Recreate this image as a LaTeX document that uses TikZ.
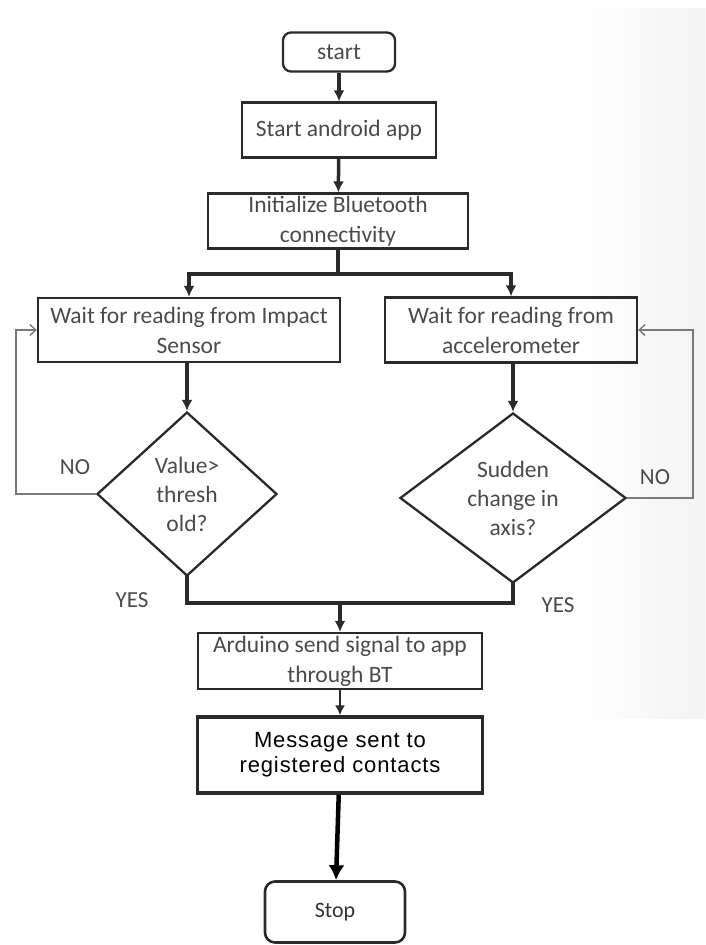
\documentclass[tikz,border=0pt]{standalone}
\usepackage{fontspec}
\setmainfont{Carlito}
\newfontfamily\arialfont[LetterSpace=4]{Liberation Sans}
\usetikzlibrary{shapes.geometric,arrows.meta,positioning}

\definecolor{boxline}{HTML}{2A2A2A}
\definecolor{txtgray}{HTML}{4A4A4A}
\definecolor{loopgray}{HTML}{7A7A7A}

\tikzset{
  procbox/.style={draw=boxline, line width=2.3pt, rectangle, align=center,
    text=txtgray, font=\fontsize{23.5}{30}\selectfont, inner sep=1pt},
  termbox/.style={procbox, rounded corners=8pt},
  decision/.style={draw=boxline, line width=2.3pt, diamond, align=center,
    text=txtgray, font=\fontsize{23.5}{29}\selectfont, inner sep=0pt},
  flow/.style={line width=3.5pt, draw=boxline, -{Latex[length=11pt,width=11pt]}},
  flowline/.style={line width=3.5pt, draw=boxline},
  loopback/.style={line width=1.4pt, draw=loopgray, -{Straight Barb[length=6pt,width=11pt]}},
  lbl/.style={text=txtgray, font=\fontsize{23}{26}\selectfont}
}

\begin{document}
\begin{tikzpicture}[x=1pt, y=-1pt]
  \useasboundingbox (0,0) rectangle (705,945);
  % slide shadow on the right
  \shade[left color=white, right color=black!5] (580,8) rectangle (705,718);

  % Boxes
  \node[termbox, minimum width=112pt, minimum height=39pt] (start) at (339,52) {start};
  \node[procbox, minimum width=194pt, minimum height=55pt] (app) at (339,130) {Start android app};
  \node[procbox, minimum width=260pt, minimum height=55pt] (init) at (338,221) {Initialize Bluetooth\\connectivity};
  \node[procbox, minimum width=302pt, minimum height=64pt] (impact) at (189,330) {Wait for reading from Impact\\Sensor};
  \node[procbox, minimum width=252pt, minimum height=65pt] (accel) at (511,330) {Wait for reading from\\accelerometer};

  % Decisions
  \node[decision, minimum width=180pt, minimum height=164pt] (thresh) at (187,494) {Value>\\thresh\\old?};
  \node[decision, minimum width=226pt, minimum height=170pt] (axis) at (513,498) {Sudden\\change in\\axis?};

  \node[procbox, minimum width=284pt, minimum height=56pt] (signal) at (340,661) {Arduino send signal to app\\through BT};
  \node[procbox, line width=3.2pt, text=black, font=\arialfont\fontsize{22}{25}\selectfont,
    minimum width=285pt, minimum height=76pt] (msg) at (340,755) {Message sent to\\registered contacts};
  \node[termbox, line width=2.6pt, text=black!80, font=\fontsize{22}{24}\selectfont,
    minimum width=140pt, minimum height=61pt, rounded corners=10pt] (stop) at (335,912) {Stop};

  % Main flow
  \draw[flow] (start) -- (app);
  \draw[flow] (app) -- (init);
  \coordinate (split) at (338,274);
  \draw[flowline] (init.south) -- (split);
  \draw[flow] (split) -| (impact.north);
  \draw[flow] (split) -| (accel.north);
  \draw[flow] (impact.south -| thresh.north) -- (thresh.north);
  \draw[flow] (accel.south -| axis.north) -- (axis.north);

  % Merge of both YES branches
  \coordinate (merge) at (340,603);
  \draw[flowline, line cap=rect] (thresh.south) |- (merge);
  \draw[flowline, line cap=rect] (axis.south) |- (merge);
  \draw[flow] (merge) -- (signal.north);
  \draw[line width=2.2pt, draw=boxline, -{Latex[length=10pt,width=10pt]}] (signal) -- (msg);
  \draw[line width=4.5pt, draw=black, -{Latex[length=15pt,width=16pt]}] (msg) -- (stop);

  % NO loops
  \coordinate (lfar) at (16,494);
  \coordinate (rfar) at (693,498);
  \draw[loopback] (thresh.west) -- (lfar) |- (impact.west);
  \draw[loopback] (axis.east) -- (rfar) |- (accel.east);

  % Labels
  \node[lbl] (noL) at (75,467) {NO};
  \node[lbl] (noR) at (655,477) {NO};
  \node[lbl] (yesL) at (132,600) {YES};
  \node[lbl] (yesR) at (558,605) {YES};
\end{tikzpicture}
\end{document}
